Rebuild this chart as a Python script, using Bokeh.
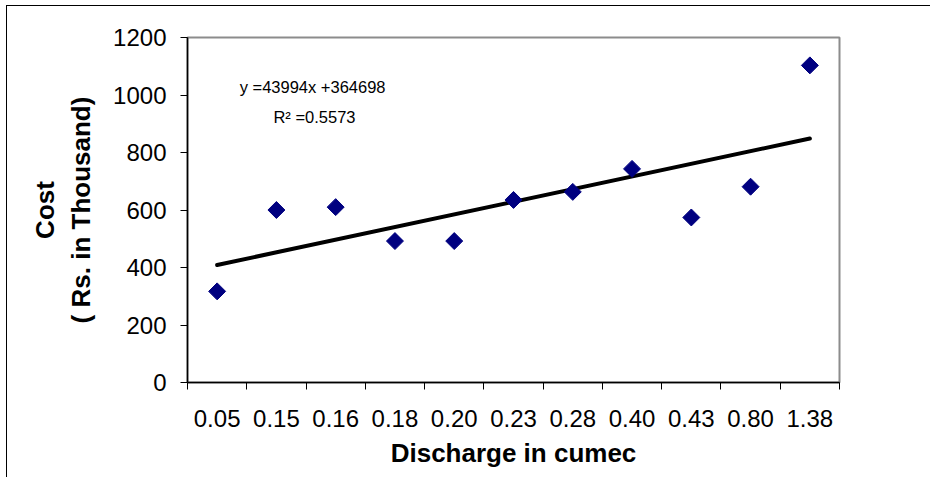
import math
from bokeh.plotting import figure
from bokeh.models import ColumnDataSource, FixedTicker, Label, Range1d
from bokeh.embed import file_html
from bokeh.resources import INLINE

# ---- data ----
discharge = ["0.05", "0.15", "0.16", "0.18", "0.20", "0.23", "0.28", "0.40", "0.43", "0.80", "1.38"]
cost = [317, 600, 610, 492, 492, 635, 663, 743, 574, 681, 1103]
y_ticks = [0, 200, 400, 600, 800, 1000, 1200]
slope_rs = 43994
intercept_rs = 364698
r_squared = "0.5573"

xs = list(range(1, len(discharge) + 1))
trend_x = [xs[0], xs[-1]]
trend_y = [(slope_rs * x + intercept_rs) / 1000.0 for x in trend_x]

FONT = "Liberation Sans"

p = figure(width=924, height=472, output_backend="svg", toolbar_location=None,
           x_range=Range1d(0.5, len(discharge) + 0.5), y_range=Range1d(0, 1200),
           min_border_left=180, min_border_top=31, min_border_right=92, min_border_bottom=96,
           styles={"border-left": "1px solid black", "border-top": "1px solid black",
                   "margin-left": "6px", "margin-top": "5px"})
p.background_fill_color = "white"
p.border_fill_color = "white"
p.outline_line_color = "#8c8c8c"
p.outline_line_width = 2
p.xgrid.visible = False
p.ygrid.visible = False

# trend line
p.line(trend_x, trend_y, line_color="black", line_width=4, line_cap="round")

# points (diamonds drawn as rotated squares)
src = ColumnDataSource(dict(x=xs, y=cost))
p.scatter("x", "y", source=src, marker="square", size=12, angle=math.pi / 4,
          fill_color="#000080", line_color="#000080")

# x axis: labels at centers, ticks at category boundaries
xa = p.xaxis[0]
xa.ticker = FixedTicker(ticks=xs, minor_ticks=[x - 0.5 for x in xs] + [xs[-1] + 0.5])
xa.major_label_overrides = {x: lab for x, lab in zip(xs, discharge)}
xa.major_tick_line_color = None
xa.minor_tick_line_color = "black"
xa.minor_tick_in = 0
xa.minor_tick_out = 7
xa.axis_line_color = "black"
xa.axis_line_width = 1.5
xa.major_label_text_font = FONT
xa.major_label_text_font_size = "24px"
xa.major_label_text_color = "black"
xa.major_label_standoff = 20
xa.axis_label = "Discharge in cumec"
xa.axis_label_text_font = FONT
xa.axis_label_text_font_style = "bold"
xa.axis_label_text_font_size = "26px"
xa.axis_label_text_color = "black"
xa.axis_label_standoff = 8

ya = p.yaxis[0]
ya.ticker = FixedTicker(ticks=y_ticks)
ya.minor_tick_line_color = None
ya.major_tick_in = 0
ya.major_tick_out = 7
ya.major_tick_line_color = "black"
ya.axis_line_color = "black"
ya.axis_line_width = 1.5
ya.major_label_text_font = FONT
ya.major_label_text_font_size = "24px"
ya.major_label_text_color = "black"
ya.major_label_standoff = 14
ya.axis_label = "Cost\n( Rs. in Thousand)"
ya.axis_label_text_font = FONT
ya.axis_label_text_font_style = "bold"
ya.axis_label_text_font_size = "26px"
ya.axis_label_text_color = "black"
ya.axis_label_standoff = 14

p.add_layout(Label(x=1.38, y=1027, text=f"y ={slope_rs}x +{intercept_rs}",
                   text_font=FONT, text_font_size="16.5px", text_color="black",
                   text_baseline="middle", text_align="left"))
p.add_layout(Label(x=1.95, y=923, text=f"R\u00b2 ={r_squared}",
                   text_font=FONT, text_font_size="16.5px", text_color="black",
                   text_baseline="middle", text_align="left"))

open("out.html", "w").write(file_html(p, INLINE))
